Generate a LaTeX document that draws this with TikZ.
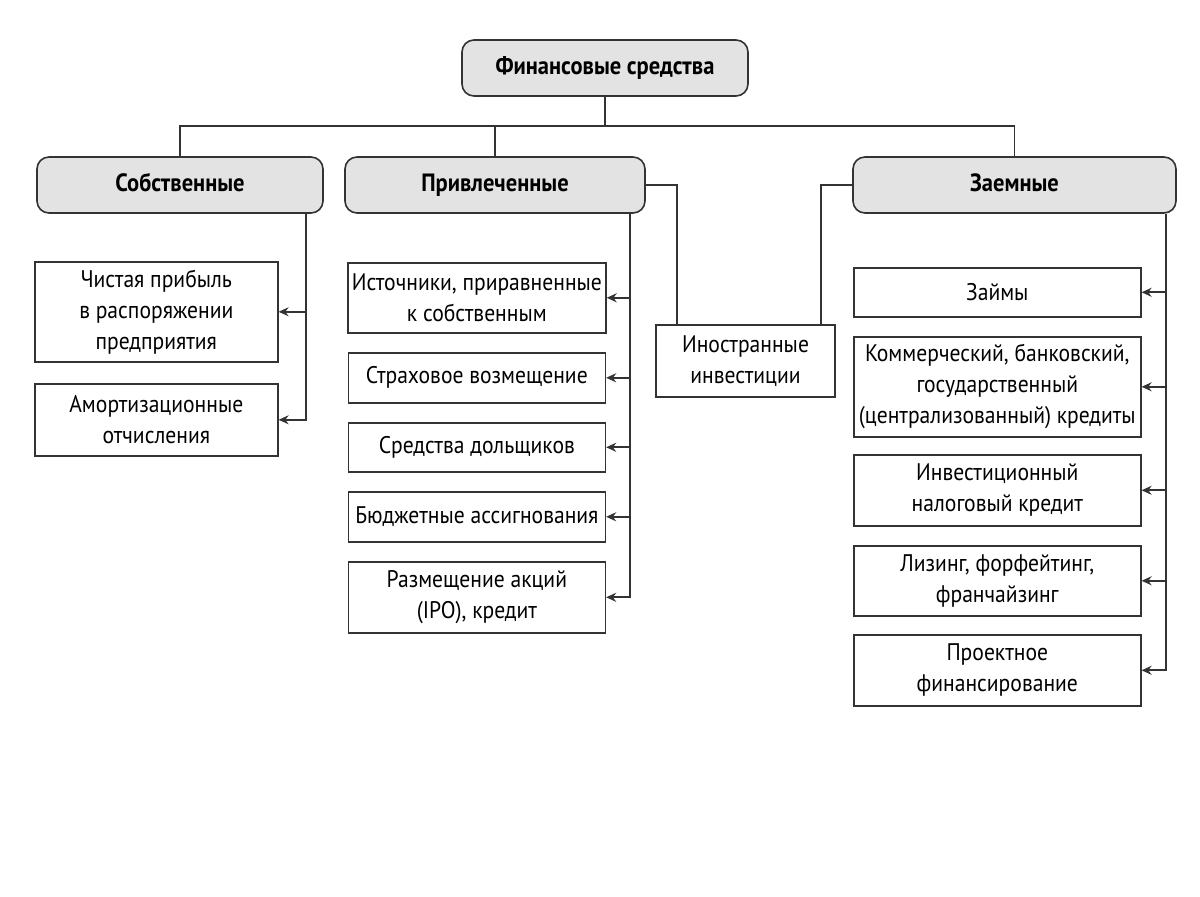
\documentclass[tikz,border=0pt]{standalone}
\usepackage{fontspec}
\setmainfont{PT Sans}[FakeStretch=0.9]
\usetikzlibrary{positioning, arrows.meta}

\begin{document}
\begin{tikzpicture}[
	x=0.5pt, y=-0.5pt,
	font=\fontsize{12}{15.5}\selectfont,
	% Define styles
	topbox/.style={rectangle, draw=black!80, fill=gray!22, rounded corners=6pt, line width=0.8pt, minimum height=28pt, text height=1.6ex, text depth=0.3ex, font=\fontsize{12.5}{15.5}\selectfont\bfseries},
	itembox/.style={rectangle, draw=black!80, fill=white, line width=0.8pt, align=center, inner sep=2pt},
	link/.style={draw=black!80, line width=0.8pt},
	arrow/.style={link, -{Stealth[length=5pt, width=4.5pt]}}
	]
	\useasboundingbox (0,0) rectangle (1200,897);
	
	% 1. Root
	\node[topbox, minimum width=143pt] (fin) at (605,68) {Финансовые средства};
	
	% 2. Groups
	\node[topbox, minimum width=143pt] (sob) at (180,185) {Собственные};
	\node[topbox, minimum width=150pt] (pri) at (495,185) {Привлеченные};
	\node[topbox, minimum width=161.5pt] (zae) at (1014.5,185) {Заемные};
	
	\coordinate (hub) at ([yshift=-14.5pt]fin.south);
	\draw[link] (fin.south) -- (hub);
	\draw[link] (hub) -| (sob.north);
	\draw[link] (hub) -| (pri.north);
	\draw[link] (hub) -| (zae.north);
	
	% 3. Own funds
	\node[itembox, minimum width=121.5pt, minimum height=50pt, anchor=north west] (net) at (34,261) {Чистая прибыль\\в распоряжении\\предприятия};
	\node[itembox, minimum width=121.5pt, minimum height=36pt, below=10.2pt of net] (amo) {Амортизационные\\отчисления};
	
	\coordinate (sobbus) at ([xshift=-9pt]sob.south east);
	\draw[arrow] (sobbus) |- (net.east);
	\draw[arrow] (sobbus) |- (amo.east);
	
	% 4. Attracted funds
	\node[itembox, minimum width=128.5pt, minimum height=35pt, anchor=north west] (ist) at (347,262) {Источники, приравненные\\к собственным};
	\node[itembox, minimum width=128.5pt, minimum height=25pt, below=9.2pt of ist] (str) {Страховое возмещение};
	\node[itembox, minimum width=128.5pt, minimum height=24.5pt, below=9.2pt of str] (dol) {Средства дольщиков};
	\node[itembox, minimum width=128.5pt, minimum height=25pt, below=9.2pt of dol] (bud) {Бюджетные ассигнования};
	\node[itembox, minimum width=128.5pt, minimum height=35.5pt, below=9.2pt of bud] (ipo) {Размещение акций\\(IPO), кредит};
	
	\coordinate (pribus) at ([xshift=-8pt]pri.south east);
	\foreach \n in {ist, str, dol, bud, ipo}
		\draw[arrow] (pribus) |- (\n.east);
	
	% Foreign investments between the two groups
	\node[itembox, minimum width=89.5pt, minimum height=36pt] (ino) at (745.5,361) {Иностранные\\инвестиции};
	\coordinate (inoL) at ([xshift=11pt]ino.north west);
	\coordinate (inoR) at ([xshift=-7.5pt]ino.north east);
	\draw[link] (pri.east) -| (inoL);
	\draw[link] (zae.west) -| (inoR);
	
	% 5. Borrowed funds
	\node[itembox, minimum width=143.5pt, minimum height=24.5pt, anchor=north west] (zai) at (853,267) {Займы};
	\node[itembox, minimum width=143.5pt, minimum height=50pt, below=9.2pt of zai] (kom) {Коммерческий, банковский,\\государственный\\(централизованный) кредиты};
	\node[itembox, minimum width=143.5pt, minimum height=35.5pt, below=8.2pt of kom] (inv) {Инвестиционный\\налоговый кредит};
	\node[itembox, minimum width=143.5pt, minimum height=35pt, below=9.2pt of inv] (liz) {Лизинг, форфейтинг,\\франчайзинг};
	\node[itembox, minimum width=143.5pt, minimum height=35.5pt, below=8.7pt of liz] (pro) {Проектное\\финансирование};
	
	\coordinate (zaebus) at ([xshift=-5.5pt]zae.south east);
	\foreach \n in {zai, kom, inv, liz, pro}
		\draw[arrow] (zaebus) |- (\n.east);
\end{tikzpicture}
\end{document}
